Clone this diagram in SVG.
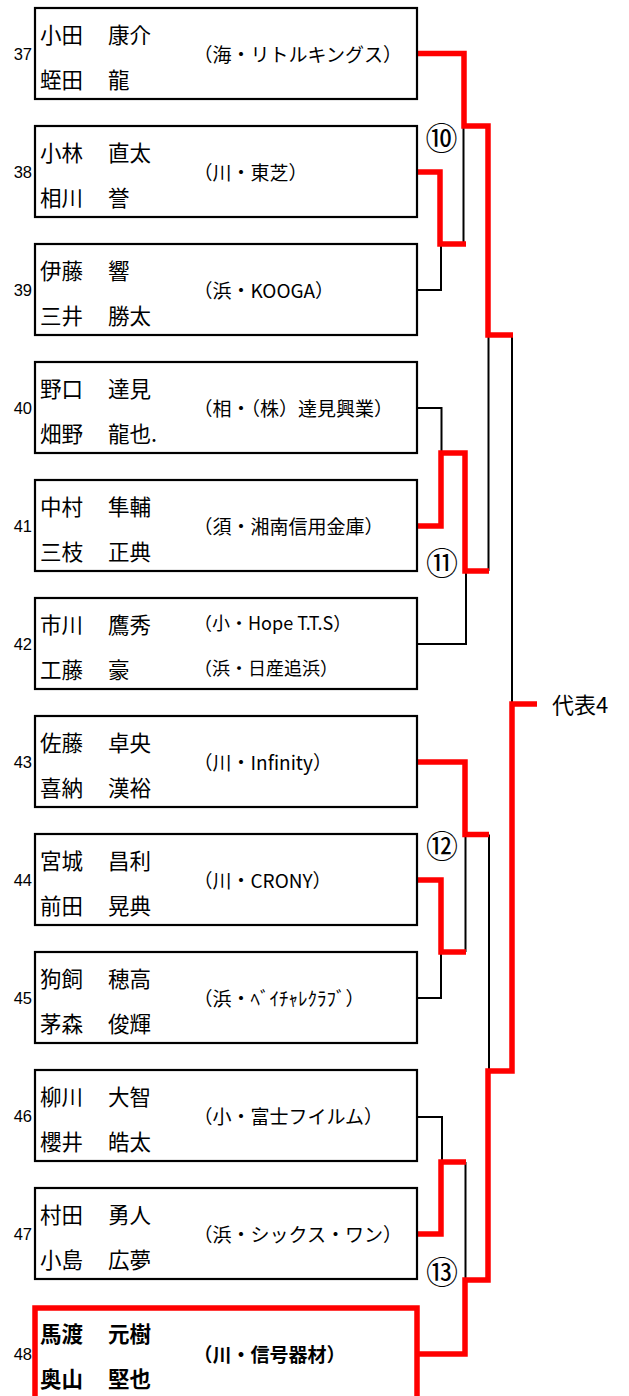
<svg xmlns="http://www.w3.org/2000/svg" width="629" height="1396" viewBox="0 0 629 1396">
<style>
.box{fill:#fff;stroke:#000;stroke-width:2.2}
.win{fill:#fff;stroke:#ff0000;stroke-width:5.5}
.num{font-family:"Liberation Sans",Arial,sans-serif;font-size:16.5px;fill:#000;text-anchor:end;dominant-baseline:central}
.nm{font-family:"Noto Sans CJK JP","Noto Sans CJK SC",sans-serif;font-size:21.5px;fill:#000;dominant-baseline:central}
.cl{font-family:"Noto Sans CJK JP","Noto Sans CJK SC",sans-serif;font-size:19px;fill:#000;dominant-baseline:central}
.cs{font-family:"Noto Sans CJK JP","Noto Sans CJK SC",sans-serif;font-size:18px;fill:#000;dominant-baseline:central}
.b{font-weight:bold}
.lb{font-family:"Noto Sans CJK JP","Noto Sans CJK SC",sans-serif;font-size:32px;fill:#000;text-anchor:middle;dominant-baseline:central}
.rep{font-family:"Noto Sans CJK JP","Noto Sans CJK SC",sans-serif;font-size:22px;fill:#000;dominant-baseline:central}
.k{fill:none;stroke:#000;stroke-width:2}
.r{fill:none;stroke:#ff0000;stroke-width:5.5;stroke-linejoin:miter;stroke-linecap:butt}
</style>
<rect width="629" height="1396" fill="#fff"/>
<g id="connectors">
  <path class="k" d="M417,290 H441 V244"/>
  <path class="k" d="M463.5,244 V126"/>
  <path class="k" d="M488.5,335 V571"/>
  <path class="k" d="M512,335 V704"/>
  <path class="k" d="M417,408 H441.5 V453"/>
  <path class="k" d="M417,644 H466 V571"/>
  <path class="k" d="M489,834.5 V1071"/>
  <path class="k" d="M465.5,952 V834.5"/>
  <path class="k" d="M417,998 H441 V952"/>
  <path class="k" d="M417,1117 H442 V1162"/>
  <path class="k" d="M465.5,1162 V1280"/>
  <path class="r" d="M417,172 H440 V244 H466"/>
  <path class="r" d="M417,53.5 H464 V126 H488 V335 H513"/>
  <path class="r" d="M417,526 H441 V453 H465 V571 H489"/>
  <path class="r" d="M417,762 H465 V834.5 H489"/>
  <path class="r" d="M417,880 H441 V952 H466"/>
  <path class="r" d="M417,1234 H441 V1162 H466"/>
  <path class="r" d="M417,1354 H465 V1280 H488 V1071 H512 V704 H537"/>
</g>
<g id="labels">
  <text class="lb" x="441.5" y="136">⑩</text>
  <text class="lb" x="442" y="561">⑪</text>
  <text class="lb" x="442" y="843.5">⑫</text>
  <text class="lb" x="442" y="1270">⑬</text>
  <text class="rep" x="552" y="703">代表4</text>
</g>
<g id="n37">
  <rect class="box" x="35" y="8" width="382" height="91"/>
  <text class="num" x="32" y="54">37</text>
  <text class="nm" y="32.5"><tspan x="40">小田</tspan><tspan x="108">康介</tspan></text>
  <text class="nm" y="77.5"><tspan x="40">蛭田</tspan><tspan x="108">龍</tspan></text>
  <text class="cl" x="193.5" y="53.5">（海・リトルキングス）</text>
</g>
<g id="n38">
  <rect class="box" x="35" y="126" width="382" height="91"/>
  <text class="num" x="32" y="172">38</text>
  <text class="nm" y="150.5"><tspan x="40">小林</tspan><tspan x="108">直太</tspan></text>
  <text class="nm" y="195.5"><tspan x="40">相川</tspan><tspan x="108">誉</tspan></text>
  <text class="cl" x="193.5" y="171.5">（川・東芝）</text>
</g>
<g id="n39">
  <rect class="box" x="35" y="244" width="382" height="91"/>
  <text class="num" x="32" y="290">39</text>
  <text class="nm" y="268.5"><tspan x="40">伊藤</tspan><tspan x="108">響</tspan></text>
  <text class="nm" y="313.5"><tspan x="40">三井</tspan><tspan x="108">勝太</tspan></text>
  <text class="cl" x="193.5" y="289.5">（浜・KOOGA）</text>
</g>
<g id="n40">
  <rect class="box" x="35" y="362" width="382" height="91"/>
  <text class="num" x="32" y="408">40</text>
  <text class="nm" y="386.5"><tspan x="40">野口</tspan><tspan x="108">達見</tspan></text>
  <text class="nm" y="431.5"><tspan x="40">畑野</tspan><tspan x="108">龍也.</tspan></text>
  <text class="cl" x="193.5" y="407.5">（相・（株）達見興業）</text>
</g>
<g id="n41">
  <rect class="box" x="35" y="480" width="382" height="91"/>
  <text class="num" x="32" y="526">41</text>
  <text class="nm" y="504.5"><tspan x="40">中村</tspan><tspan x="108">隼輔</tspan></text>
  <text class="nm" y="549.5"><tspan x="40">三枝</tspan><tspan x="108">正典</tspan></text>
  <text class="cl" x="193.5" y="525.5">（須・湘南信用金庫）</text>
</g>
<g id="n42">
  <rect class="box" x="35" y="598" width="382" height="91"/>
  <text class="num" x="32" y="644">42</text>
  <text class="nm" y="622.5"><tspan x="40">市川</tspan><tspan x="108">鷹秀</tspan></text>
  <text class="nm" y="667.5"><tspan x="40">工藤</tspan><tspan x="108">豪</tspan></text>
  <text class="cs" x="194" y="622">（小・Hope T.T.S）</text>
  <text class="cs" x="194" y="667">（浜・日産追浜）</text>
</g>
<g id="n43">
  <rect class="box" x="35" y="716" width="382" height="91"/>
  <text class="num" x="32" y="762">43</text>
  <text class="nm" y="740.5"><tspan x="40">佐藤</tspan><tspan x="108">卓央</tspan></text>
  <text class="nm" y="785.5"><tspan x="40">喜納</tspan><tspan x="108">漢裕</tspan></text>
  <text class="cl" x="193.5" y="761.5">（川・Infinity）</text>
</g>
<g id="n44">
  <rect class="box" x="35" y="834" width="382" height="91"/>
  <text class="num" x="32" y="880">44</text>
  <text class="nm" y="858.5"><tspan x="40">宮城</tspan><tspan x="108">昌利</tspan></text>
  <text class="nm" y="903.5"><tspan x="40">前田</tspan><tspan x="108">晃典</tspan></text>
  <text class="cl" x="193.5" y="879.5">（川・CRONY）</text>
</g>
<g id="n45">
  <rect class="box" x="35" y="952" width="382" height="91"/>
  <text class="num" x="32" y="998">45</text>
  <text class="nm" y="976.5"><tspan x="40">狗飼</tspan><tspan x="108">穂高</tspan></text>
  <text class="nm" y="1021.5"><tspan x="40">茅森</tspan><tspan x="108">俊輝</tspan></text>
  <text class="cl" x="193.5" y="997.5">（浜・ﾍﾞｲﾁｬﾚｸﾗﾌﾞ）</text>
</g>
<g id="n46">
  <rect class="box" x="35" y="1070" width="382" height="91"/>
  <text class="num" x="32" y="1116">46</text>
  <text class="nm" y="1094.5"><tspan x="40">柳川</tspan><tspan x="108">大智</tspan></text>
  <text class="nm" y="1139.5"><tspan x="40">櫻井</tspan><tspan x="108">皓太</tspan></text>
  <text class="cl" x="193.5" y="1115.5">（小・富士フイルム）</text>
</g>
<g id="n47">
  <rect class="box" x="35" y="1188" width="382" height="91"/>
  <text class="num" x="32" y="1234">47</text>
  <text class="nm" y="1212.5"><tspan x="40">村田</tspan><tspan x="108">勇人</tspan></text>
  <text class="nm" y="1257.5"><tspan x="40">小島</tspan><tspan x="108">広夢</tspan></text>
  <text class="cl" x="193.5" y="1233.5">（浜・シックス・ワン）</text>
</g>
<g id="n48">
  <rect class="win" x="35" y="1308" width="382" height="120"/>
  <text class="num" x="32" y="1354">48</text>
  <text class="nm b" y="1332"><tspan x="40">馬渡</tspan><tspan x="108">元樹</tspan></text>
  <text class="nm b" y="1377"><tspan x="40">奥山</tspan><tspan x="108">堅也</tspan></text>
  <text class="cl b" x="193.5" y="1353.5">（川・信号器材）</text>
</g>
</svg>
